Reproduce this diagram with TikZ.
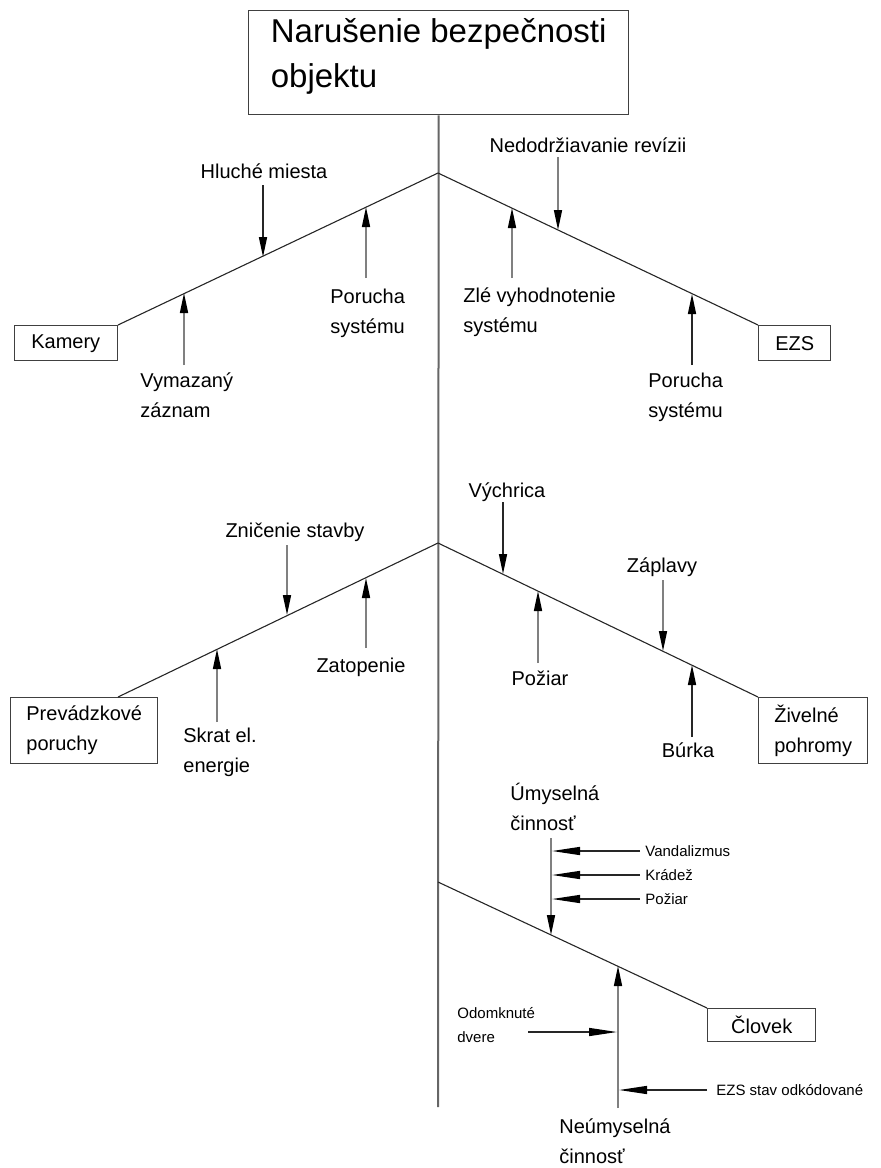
\documentclass[tikz,border=0pt]{standalone}
\usepackage{fontspec}
\setmainfont{Liberation Sans}
\usetikzlibrary{arrows.meta}

\begin{document}
\begin{tikzpicture}[x=0.5pt, y=-0.5pt,
  >={Triangle[length=10pt, width=4pt, color=black, fill=black]},
  box/.style={draw=black!75, line width=0.7pt, inner sep=0pt, align=left,
    font=\fontsize{10}{15}\selectfont},
  lab/.style={inner sep=0pt, align=left, font=\fontsize{10}{15}\selectfont},
  small/.style={inner sep=0pt, align=left, font=\fontsize{7.5}{12}\selectfont},
  spine/.style={black!60, line width=1pt},
  branch/.style={black!85, line width=0.55pt},
  pin/.style={->, black!85, line width=0.8pt},
  greypin/.style={pin, draw=black!50},
  feed/.style={-{Triangle[length=14pt, width=4pt, color=black, fill=black]}, black!85, line width=0.7pt}]
\useasboundingbox (0,0) rectangle (880,1168);

% main event and spine
\node[box, font=\fontsize{16.5}{22.5}\selectfont, minimum width=190pt, minimum height=52pt,
  anchor=north west] (top) at (248,10) {Narušenie bezpečnosti\\objektu\rule[-9.5pt]{0pt}{0pt}};
\coordinate (bot) at (438,1107);
\draw[spine] (top) -- (bot);

% fork 1: Kamery / EZS
\coordinate (f1) at (438,173);
\node[box, minimum width=51.5pt, minimum height=17.5pt, anchor=north east] (kam) at (118,325) {Kamery};
\node[box, minimum width=36pt, minimum height=17.5pt, anchor=north west] (ezs) at (758,325) {EZS};
\draw[branch] (kam.north east) -- (f1) -- (ezs.north west);

\node[lab, anchor=base] (hl) at (264,178) {Hluché miesta};
\node[lab, anchor=base west] (ps) at (330,333) {Porucha\\systému};
\node[lab, anchor=base west] (vz) at (140,417) {Vymazaný\\záznam};
\coordinate (hlA) at (263,185); \coordinate (hlB) at (263,257);
\coordinate (psA) at (366,278); \coordinate (psB) at (366,207);
\coordinate (vzA) at (184,365); \coordinate (vzB) at (184,293);
\draw[pin] (hlA) -- (hlB);
\draw[greypin] (psA) -- (psB);
\draw[greypin] (vzA) -- (vzB);

\node[lab, anchor=base] (nd) at (588,152) {Nedodržiavanie revízii};
\node[lab, anchor=base west] (zv) at (463,332) {Zlé vyhodnotenie\\systému};
\node[lab, anchor=base west] (pr) at (648,417) {Porucha\\systému};
\coordinate (ndA) at (558,157); \coordinate (ndB) at (558,230);
\coordinate (zvA) at (512,278); \coordinate (zvB) at (512,208);
\coordinate (prA) at (692,365); \coordinate (prB) at (692,294);
\draw[greypin] (ndA) -- (ndB);
\draw[greypin] (zvA) -- (zvB);
\draw[pin] (prA) -- (prB);

% fork 2: Prevadzkove poruchy / Zivelne pohromy
\coordinate (f2) at (438,543);
\node[box, minimum width=73.5pt, minimum height=33pt, anchor=north west] (prev) at (10,697) {Prevádzkové\\poruchy};
\node[box, minimum width=54.5pt, minimum height=33pt, anchor=north west] (ziv) at (758,697) {Živelné\\pohromy};
\draw[branch] ([xshift=54pt]prev.north west) -- (f2) -- (ziv.north west);

\node[lab, anchor=base] (zn) at (295,537) {Zničenie stavby};
\node[lab, anchor=base] (zt) at (361,672) {Zatopenie};
\node[lab, anchor=base west] (sk) at (183,772) {Skrat el.\\energie};
\coordinate (znA) at (287,545); \coordinate (znB) at (287,615);
\coordinate (ztA) at (366,648); \coordinate (ztB) at (366,578);
\coordinate (skA) at (217,722); \coordinate (skB) at (217,649);
\draw[greypin] (znA) -- (znB);
\draw[greypin] (ztA) -- (ztB);
\draw[greypin] (skA) -- (skB);

\node[lab, anchor=base] (vy) at (507,497) {Výchrica};
\node[lab, anchor=base] (pz) at (540,685) {Požiar};
\node[lab, anchor=base] (zp) at (662,572) {Záplavy};
\node[lab, anchor=base] (bu) at (688,757) {Búrka};
\coordinate (vyA) at (503,502); \coordinate (vyB) at (503,574);
\coordinate (pzA) at (538,663); \coordinate (pzB) at (538,591);
\coordinate (zpA) at (663,580); \coordinate (zpB) at (663,651);
\coordinate (buA) at (692,737); \coordinate (buB) at (692,665);
\draw[pin] (vyA) -- (vyB);
\draw[greypin] (pzA) -- (pzB);
\draw[greypin] (zpA) -- (zpB);
\draw[pin] (buA) -- (buB);

% fork 3: Clovek
\coordinate (f3) at (438,882);
\node[box, minimum width=54pt, minimum height=16.5pt, anchor=north west] (clo) at (707,1008) {Človek};
\draw[branch] (f3) -- (clo.north west);

\node[lab, anchor=base west] (um) at (510,830) {Úmyselná\\činnosť};
\coordinate (umA) at (551,838); \coordinate (umB) at (551,935);
\draw[greypin] (umA) -- (umB);
\node[small, anchor=west] (vd) at (645,851) {Vandalizmus};
\node[small, anchor=west] (kr) at (645,875) {Krádež};
\node[small, anchor=west] (po) at (645,899) {Požiar};
\coordinate (vdA) at (640,851); \coordinate (vdB) at (552,851);
\coordinate (krA) at (640,875); \coordinate (krB) at (552,875);
\coordinate (poA) at (640,899); \coordinate (poB) at (552,899);
\draw[feed] (vdA) -- (vdB);
\draw[feed] (krA) -- (krB);
\draw[feed] (poA) -- (poB);

\node[lab, anchor=base west] (ne) at (559,1163) {Neúmyselná\\činnosť};
\coordinate (neA) at (618,1108); \coordinate (neB) at (618,966);
\draw[greypin] (neA) -- (neB);
\node[small, anchor=base west] (od) at (457,1042) {Odomknuté\\dvere};
\node[small, anchor=west] (ez) at (716,1090) {EZS stav odkódované};
\coordinate (odA) at (528,1032); \coordinate (odB) at (617,1032);
\coordinate (ezA) at (707,1090); \coordinate (ezB) at (619,1090);
\draw[feed] (odA) -- (odB);
\draw[feed] (ezA) -- (ezB);
\end{tikzpicture}
\end{document}
